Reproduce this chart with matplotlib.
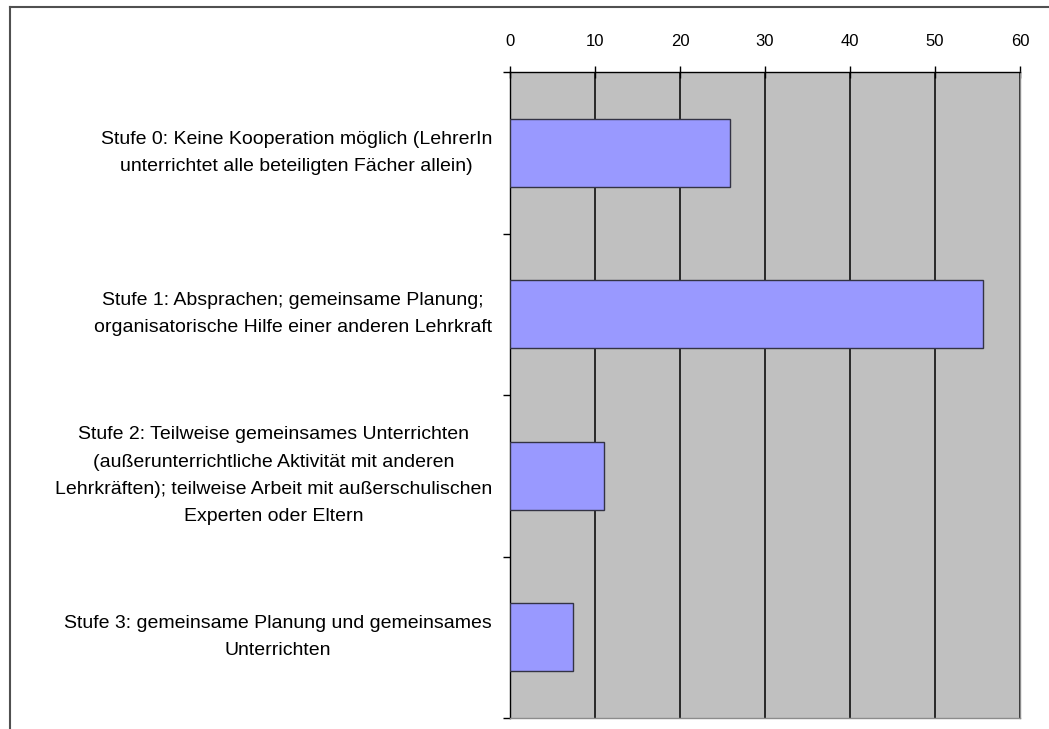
import matplotlib
matplotlib.use("Agg")
import matplotlib.pyplot as plt
from matplotlib.lines import Line2D
from matplotlib import font_manager

plt.rcParams['font.family'] = ['Liberation Sans', 'DejaVu Sans']

categories = [
    "Stufe 0: Keine Kooperation möglich (LehrerIn\nunterrichtet alle beteiligten Fächer allein)",
    "Stufe 1: Absprachen; gemeinsame Planung;\norganisatorische Hilfe einer anderen Lehrkraft",
    "Stufe 2: Teilweise gemeinsames Unterrichten\n(außerunterrichtliche Aktivität mit anderen\nLehrkräften); teilweise Arbeit mit außerschulischen\nExperten oder Eltern",
    "Stufe 3: gemeinsame Planung und gemeinsames\nUnterrichten",
]
values = [25.9, 55.6, 11.1, 7.4]
x_ticks = [0, 10, 20, 30, 40, 50, 60]

W, H = 1049, 729
fig = plt.figure(figsize=(W / 100, H / 100), dpi=100)
fig.patch.set_facecolor("white")

ax = fig.add_axes([510 / W, 1 - 718 / H, 510 / W, 646 / H])
ax.set_facecolor("#C0C0C0")

ypos = list(range(len(categories)))
ax.barh(ypos, values, height=0.42, color="#9999FF", edgecolor="#333344",
        linewidth=1.0, zorder=3)

ax.set_xlim(0, 60)
ax.set_ylim(len(categories) - 0.5, -0.5)

# numeric axis along the top
ax.set_xticks(x_ticks)
ax.xaxis.tick_top()
ax.tick_params(axis="x", which="major", direction="inout", length=9, width=1,
               pad=12, labelsize=12, colors="black")
narrow = [f.name for f in font_manager.fontManager.ttflist
          if f.name == "Liberation Sans Narrow"]
for lbl in ax.get_xticklabels():
    lbl.set_family(["Liberation Sans Narrow"] if narrow else ["Liberation Sans"])
ax.grid(axis="x", color="black", linewidth=1.1, zorder=1)
ax.set_axisbelow(True)

# category labels, with tick marks on the boundaries between categories
ax.set_yticks(ypos)
ax.set_yticklabels(categories, fontsize=14, linespacing=1.8, ha="right",
                   va="center", multialignment="center")
ax.set_yticks([i - 0.5 for i in range(len(categories) + 1)], minor=True)
ax.tick_params(axis="y", which="major", length=0, pad=13)
ax.tick_params(axis="y", which="minor", direction="out", length=5, width=1)

ax.spines["top"].set_color("black")
ax.spines["left"].set_color("black")
ax.spines["right"].set_color("#8C8C8C")
ax.spines["bottom"].set_color("#8C8C8C")
for s in ax.spines.values():
    s.set_linewidth(1.0)

# chart area frame (top and left edges)
fig.add_artist(Line2D([10 / W, 10 / W], [0, 1 - 7 / H], transform=fig.transFigure,
                      color="#505050", linewidth=1.5))
fig.add_artist(Line2D([10 / W, 1], [1 - 7 / H, 1 - 7 / H], transform=fig.transFigure,
                      color="#505050", linewidth=1.5))

fig.savefig("out.png", dpi=100)
